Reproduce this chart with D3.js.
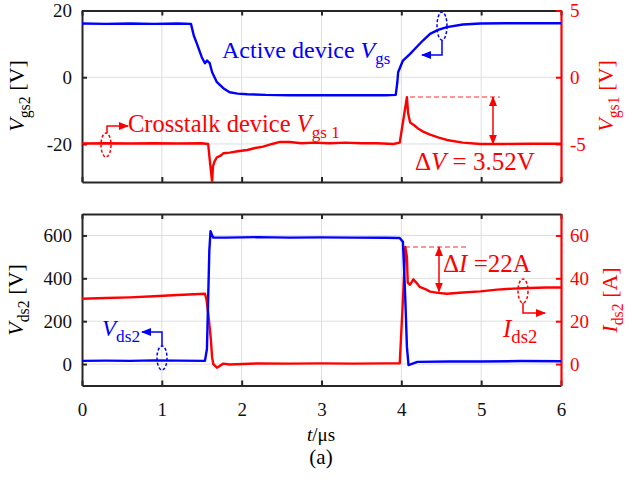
<!DOCTYPE html>
<html><head><meta charset="utf-8">
<script src="https://cdn.jsdelivr.net/npm/d3@7"></script>
<style>body{margin:0;background:#fff}svg{display:block}text{font-family:"Liberation Serif","Times New Roman",serif}</style>
</head><body><svg id="c" width="628" height="481"></svg>
<script>
// ---------- data ----------
const xTicks = [0,1,2,3,4,5,6];
const topLeftTicks = [20,0,-20];
const topRightTicks = [5,0,-5];
const botLeftTicks = [600,400,200,0];
const botRightTicks = [60,40,20,0];

// Active device Vgs2 (top, left axis)
const vgs2T = [0,0.3,0.6,0.9,1.2,1.365,1.40,1.44,1.50,1.54,1.566,1.60,1.63,1.69,1.77,1.85,1.95,2.07,2.3,2.6,3.0,3.4,3.8,3.93,3.95,3.96,4.02,4.11,4.15,4.27,4.36,4.46,4.57,4.77,4.99,5.3,5.6,6.0];
const vgs2V = [16.1,16.0,16.1,16.0,16.1,16.0,12.5,10.0,6.0,4.2,5.0,4.2,1.5,-1.5,-3.3,-4.5,-4.9,-5.1,-5.3,-5.4,-5.4,-5.4,-5.4,-5.3,-1.5,1.5,5.0,7.0,8.0,11.0,13.0,14.2,15.0,15.8,16.1,16.2,16.2,16.2];
// Crosstalk device Vgs1 (top, right axis)
const vgs1T = [0,0.3,0.6,0.9,1.2,1.5,1.58,1.60,1.63,1.64,1.66,1.69,1.73,1.77,1.85,1.95,2.07,2.17,2.27,2.38,2.48,2.6,2.75,2.9,3.1,3.3,3.5,3.7,3.9,3.98,4.03,4.07,4.085,4.11,4.16,4.2,4.28,4.36,4.46,4.57,4.77,4.99,5.3,5.6,6.0];
const vgs1V = [-4.97,-4.95,-4.97,-4.95,-4.97,-4.95,-5.0,-6.2,-7.85,-6.7,-6.3,-6.0,-5.9,-5.7,-5.65,-5.55,-5.45,-5.3,-5.2,-5.0,-4.85,-4.85,-4.95,-4.9,-4.95,-4.9,-4.95,-4.95,-5.0,-4.9,-3.0,-1.5,-2.7,-3.4,-3.6,-3.8,-4.1,-4.3,-4.5,-4.7,-4.9,-5.0,-5.0,-4.98,-4.98];
// Vds2 (bottom, left axis)
const vdsT = [0,0.3,0.6,0.9,1.2,1.54,1.565,1.58,1.595,1.61,1.63,1.645,1.8,2.2,2.6,3.0,3.4,3.8,3.98,4.02,4.05,4.07,4.09,4.2,4.6,5.0,5.5,6.0];
const vdsV = [15,16,15,17,16,15,70,300,530,620,600,590,590,592,590,591,590,589,588,570,300,80,-5,10,12,12,14,13];
// Ids2 (bottom, right axis)
const idsT = [0,0.3,0.6,0.9,1.2,1.54,1.56,1.58,1.60,1.615,1.63,1.645,1.69,1.77,1.85,2.2,2.6,3.0,3.4,3.8,3.98,4.02,4.05,4.07,4.08,4.11,4.15,4.2,4.23,4.3,4.36,4.46,4.57,4.77,4.99,5.2,5.4,5.6,5.82,6.0];
const idsV = [30.5,30.8,31.1,31.6,32.2,32.8,30,24,17,11,3,0,-1.7,0.2,-0.2,0.3,0.2,0.3,0.2,0.3,0.3,30,54.6,50,38,37,39.5,37.5,36,35,33.8,33.2,32.8,33.4,33.9,34.7,35.2,35.5,35.7,35.7];

// ---------- layout ----------
const svg = d3.select("#c");
const L = 82, R = 561;
const topP = {t:10.5, b:182};
const botP = {t:214, b:385.5};
const BLUE = "#0000ff", RED = "#ff0000", FRAME = "#262626", GRID = "#dedede";

const x = d3.scaleLinear([0,6],[L,R]);
const yTL = d3.scaleLinear([-31.4,20],[topP.b,topP.t]);
const yTR = d3.scaleLinear([-7.85,5],[topP.b,topP.t]);
const yBL = d3.scaleLinear([-100,700],[botP.b,botP.t]);
const yBR = d3.scaleLinear([-10,70],[botP.b,botP.t]);

function rich(g, px, py, parts, opt){
  opt = opt||{};
  const t = g.append("text").attr("x",px).attr("y",py)
    .attr("fill",opt.fill||"#000").attr("font-size",opt.size||20)
    .attr("text-anchor",opt.anchor||"start");
  if(opt.rotate) t.attr("transform",`rotate(-90,${px},${py})`);
  let shift = 0;
  parts.forEach(p=>{
    const s = t.append("tspan").text(p.t);
    const want = p.sub ? (opt.subDy||6) : 0;
    if(want!==shift){ s.attr("dy", want-shift); shift = want; }
    if(p.it) s.attr("font-style","italic");
    if(p.sub) s.attr("font-size",(opt.size||20)*(opt.subScale||0.72));
  });
  return t;
}

function panel(P, yL, yR, lTicks, rTicks, showX){
  const g = svg.append("g");
  g.selectAll(".gx").data(xTicks.slice(1,-1)).join("line")
    .attr("x1",d=>x(d)).attr("x2",d=>x(d)).attr("y1",P.t).attr("y2",P.b)
    .attr("stroke",GRID).attr("stroke-width",1);
  g.selectAll(".gy").data(lTicks).join("line")
    .attr("x1",L).attr("x2",R).attr("y1",d=>yL(d)).attr("y2",d=>yL(d))
    .attr("stroke",GRID).attr("stroke-width",1);
  const ab = g.append("g").attr("transform",`translate(0,${P.b})`)
    .call(d3.axisBottom(x).tickValues(xTicks).tickSizeInner(-5).tickSizeOuter(0).tickPadding(17).tickFormat(showX?d3.format("d"):()=>""));
  const at = g.append("g").attr("transform",`translate(0,${P.t})`)
    .call(d3.axisTop(x).tickValues(xTicks).tickSizeInner(-5).tickSizeOuter(0).tickFormat(()=>""));
  const al = g.append("g").attr("transform",`translate(${L},0)`)
    .call(d3.axisLeft(yL).tickValues(lTicks).tickSizeInner(-5).tickSizeOuter(0).tickPadding(10).tickFormat(d=>String(d)));
  const ar = g.append("g").attr("transform",`translate(${R},0)`)
    .call(d3.axisRight(yR).tickValues(rTicks).tickSizeInner(-5).tickSizeOuter(0).tickPadding(9).tickFormat(d=>String(d)));
  [ab,at,al].forEach(a=>{
    a.select(".domain").attr("stroke",FRAME).attr("stroke-width",2);
    a.selectAll(".tick line").attr("stroke",FRAME).attr("stroke-width",2);
    a.selectAll(".tick text").attr("fill","#111").attr("font-size",19).attr("font-family","Liberation Serif");
  });
  ar.select(".domain").attr("stroke",RED).attr("stroke-width",2.2);
  ar.selectAll(".tick line").attr("stroke",RED).attr("stroke-width",2);
  ar.selectAll(".tick text").attr("fill",RED).attr("font-size",19).attr("font-family","Liberation Serif");
  return g;
}

const gTop = panel(topP, yTL, yTR, topLeftTicks, topRightTicks, false);
const gBot = panel(botP, yBL, yBR, botLeftTicks, botRightTicks, true);

const defs = svg.append("defs");
defs.append("clipPath").attr("id","ct").append("rect").attr("x",L).attr("y",topP.t).attr("width",R-L).attr("height",topP.b-topP.t);
defs.append("clipPath").attr("id","cb").append("rect").attr("x",L).attr("y",botP.t).attr("width",R-L).attr("height",botP.b-botP.t);

function series(g, T, V, ys, color, clip){
  const pts = T.map((t,i)=>[t,V[i]]);
  g.append("path").datum(pts).attr("clip-path",`url(#${clip})`)
    .attr("fill","none").attr("stroke",color).attr("stroke-width",2.4).attr("stroke-linejoin","round")
    .attr("d", d3.line().x(d=>x(d[0])).y(d=>ys(d[1])));
}
series(gTop, vgs1T, vgs1V, yTR, RED, "ct");
series(gTop, vgs2T, vgs2V, yTL, BLUE, "ct");
series(gBot, idsT, idsV, yBR, RED, "cb");
series(gBot, vdsT, vdsV, yBL, BLUE, "cb");

function marker(id, color){
  defs.append("marker").attr("id",id).attr("viewBox","0 0 10 10").attr("refX",9).attr("refY",5)
    .attr("markerWidth",10).attr("markerHeight",10).attr("markerUnits","userSpaceOnUse").attr("orient","auto-start-reverse")
    .append("path").attr("d","M0,1 L10,5 L0,9 Z").attr("fill",color);
}
marker("ab", BLUE); marker("ar", RED);

const ann = svg.append("g");
function ellipse(cx,cy,rx,ry,color){
  ann.append("ellipse").attr("cx",cx).attr("cy",cy).attr("rx",rx).attr("ry",ry)
    .attr("fill","none").attr("stroke",color).attr("stroke-width",1.5).attr("stroke-dasharray","3,2");
}
function poly(pts,color,mk,both){
  const p = ann.append("path").attr("d",d3.line()(pts)).attr("fill","none").attr("stroke",color).attr("stroke-width",1.5)
    .attr("marker-end",`url(#${mk})`);
  if(both) p.attr("marker-start",`url(#${mk})`);
}
function dashed(x1,x2,y,color){
  ann.append("line").attr("x1",x1).attr("x2",x2).attr("y1",y).attr("y2",y)
    .attr("stroke",color).attr("stroke-width",1.2).attr("stroke-dasharray","5,3").attr("opacity",0.85);
}

// top annotations
rich(ann, 222, 58, [{t:"Active device "},{t:"V",it:true},{t:"gs",sub:true}], {fill:BLUE,size:24,subScale:0.7});
ellipse(442, 26, 5, 14, BLUE);
poly([[442,40],[442,55],[422,55]], BLUE, "ab");
rich(ann, 128, 132, [{t:"Crosstalk device "},{t:"V",it:true},{t:"gs 1",sub:true}], {fill:RED,size:24.5,subScale:0.7});
ellipse(106, 145, 5, 12, RED);
poly([[107,133],[107,126],[128,126]], RED, "ar");
dashed(410, 500, yTR(-1.48), RED);
poly([[493,yTR(-1.48)],[493,yTR(-4.98)]], RED, "ar", true);
rich(ann, 415, 170, [{t:"Δ"},{t:"V",it:true},{t:" = 3.52V"}], {fill:RED,size:25});

// bottom annotations
dashed(405, 468, yBR(54.6), RED);
poly([[439,yBR(54.6)],[439,yBR(33.8)]], RED, "ar", true);
rich(ann, 443, 272, [{t:"Δ"},{t:"I",it:true},{t:" =22A"}], {fill:RED,size:25});
ellipse(523, 291, 5, 12, RED);
poly([[523,303],[523,313],[545,313]], RED, "ar");
rich(ann, 503, 337, [{t:"I",it:true},{t:"ds2",sub:true}], {fill:RED,size:25,subScale:0.75});
ellipse(162, 358, 5, 12, BLUE);
poly([[162,346],[162,332],[142,332]], BLUE, "ab");
rich(ann, 102, 336, [{t:"V",it:true},{t:"ds2",sub:true}], {fill:BLUE,size:23,subScale:0.75});

// axis titles
rich(svg, 24, 96, [{t:"V",it:true},{t:"gs2",sub:true},{t:" [V]"}], {size:22, anchor:"middle", rotate:true});
rich(svg, 613, 96, [{t:"V",it:true},{t:"gs1",sub:true},{t:" [V]"}], {size:22, anchor:"middle", rotate:true, fill:RED});
rich(svg, 23, 300, [{t:"V",it:true},{t:"ds2",sub:true},{t:" [V]"}], {size:22, anchor:"middle", rotate:true});
rich(svg, 617, 300, [{t:"I",it:true},{t:"ds2",sub:true},{t:" [A]"}], {size:22, anchor:"middle", rotate:true, fill:RED});
rich(svg, 321, 441, [{t:"t",it:true},{t:"/μs"}], {size:19, anchor:"middle"});
rich(svg, 321, 464, [{t:"(a)"}], {size:21, anchor:"middle"});
</script></body></html>
